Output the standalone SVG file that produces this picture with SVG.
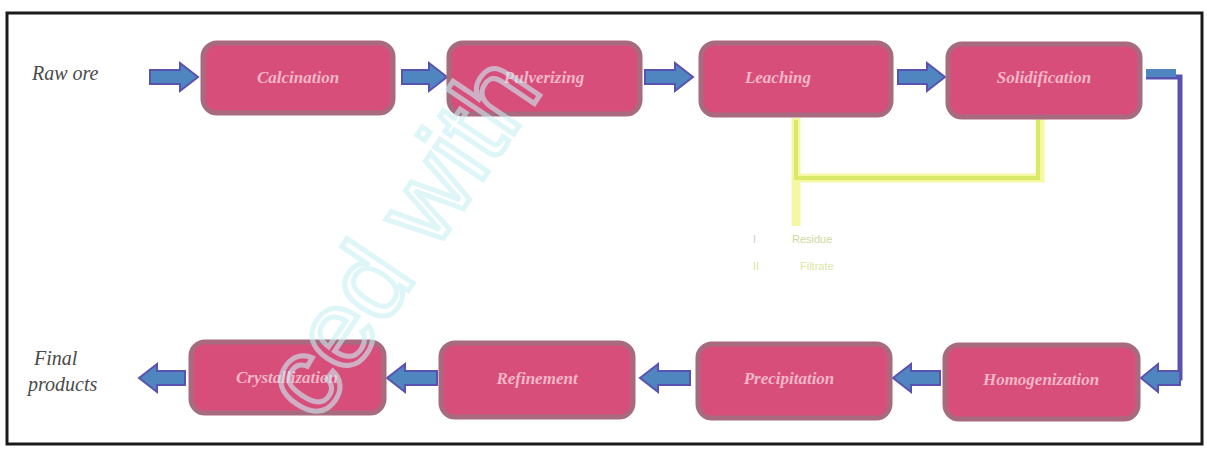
<svg xmlns="http://www.w3.org/2000/svg" width="1207" height="453" viewBox="0 0 1207 453">
<style>
.box{fill:#d84e7a;stroke:#a86a7e;stroke-width:5}
.bt{font-family:"Liberation Serif",serif;font-style:italic;font-weight:bold;font-size:17px;fill:#f2b6c8;text-anchor:middle}
.lab{font-family:"Liberation Serif",serif;font-style:italic;font-size:20px;fill:#4a4a4a}
.arr{fill:#4f86bf;stroke:#5a52b0;stroke-width:2}
.yl{fill:none;stroke:#f4f8a2;stroke-width:9}
.yc{fill:none;stroke:#dbe96a;stroke-width:4}
.wm{font-family:"Liberation Sans",sans-serif;font-size:110px;fill:none;stroke:#c8f0f4;stroke-opacity:0.6;stroke-width:5}
</style>
<rect width="1207" height="453" fill="#fff"/>
<rect x="7" y="13" width="1195" height="431" fill="none" stroke="#1a1a1a" stroke-width="3"/>
<g id="connectors">
<polygon class="arr" points="150,70 180,70 180,63 198,77 180,91 180,84 150,84"/>
<polygon class="arr" points="402,70 429,70 429,63 447,77 429,91 429,84 402,84"/>
<polygon class="arr" points="645,70 675,70 675,63 693,77 675,91 675,84 645,84"/>
<polygon class="arr" points="898,70 927,70 927,63 945,77 927,91 927,84 898,84"/>
<path d="M1146,77 H1180 V378 H1150" fill="none" stroke="#5a52b0" stroke-width="5"/>
<path d="M1146,73 H1176" stroke="#4f86bf" stroke-width="8"/>
<polygon class="arr" points="1180,371 1158,371 1158,364 1141,378 1158,392 1158,385 1180,385"/>
<polygon class="arr" points="940,371 911,371 911,364 893,378 911,392 911,385 940,385"/>
<polygon class="arr" points="690,371 658,371 658,364 640,378 658,392 658,385 690,385"/>
<polygon class="arr" points="437,371 405,371 405,364 387,378 405,392 405,385 437,385"/>
<polygon class="arr" points="185,371 157,371 157,364 139,378 157,392 157,385 185,385"/>
<path class="yl" d="M796,118 V178 H1040 V118 M796,178 V226"/>
<path class="yc" d="M796,120 V178 H1038 V120"/>
</g>
<g id="n1"><rect class="box" x="203" y="43" width="190" height="70" rx="14"/><text class="bt" x="298" y="83">Calcination</text></g>
<g id="n2"><rect class="box" x="449" y="43" width="191" height="71" rx="14"/><text class="bt" x="544" y="83">Pulverizing</text></g>
<g id="n3"><rect class="box" x="701" y="43" width="190" height="72" rx="14"/><text class="bt" x="778" y="83">Leaching</text></g>
<g id="n4"><rect class="box" x="948" y="44" width="192" height="73" rx="14"/><text class="bt" x="1044" y="83">Solidification</text></g>
<g id="n5"><rect class="box" x="945" y="345" width="193" height="74" rx="14"/><text class="bt" x="1041" y="385">Homogenization</text></g>
<g id="n6"><rect class="box" x="698" y="344" width="192" height="74" rx="14"/><text class="bt" x="789" y="384">Precipitation</text></g>
<g id="n7"><rect class="box" x="441" y="343" width="192" height="74" rx="14"/><text class="bt" x="537" y="384">Refinement</text></g>
<g id="n8"><rect class="box" x="191" y="342" width="193" height="71" rx="14"/><text class="bt" x="287" y="383">Crystallization</text></g>
<g id="labels">
<text class="lab" x="32" y="80">Raw ore</text>
<text class="lab" x="34" y="365" font-size="17" fill="#9a9a9a">Final</text>
<text class="lab" x="28" y="391" font-size="17" fill="#9a9a9a">products</text>
<text x="753" y="243" font-family="Liberation Sans,sans-serif" font-size="11" fill="#cfcfcf">I</text>
<text x="792" y="243" font-family="Liberation Sans,sans-serif" font-size="11" fill="#cfd8a0">Residue</text>
<text x="753" y="270" font-family="Liberation Sans,sans-serif" font-size="11" fill="#dde6a0">II</text>
<text x="800" y="270" font-family="Liberation Sans,sans-serif" font-size="11" fill="#dde6a0">Filtrate</text>
</g>
<text class="wm" transform="translate(318,424) rotate(-56)">ced with</text>
</svg>
